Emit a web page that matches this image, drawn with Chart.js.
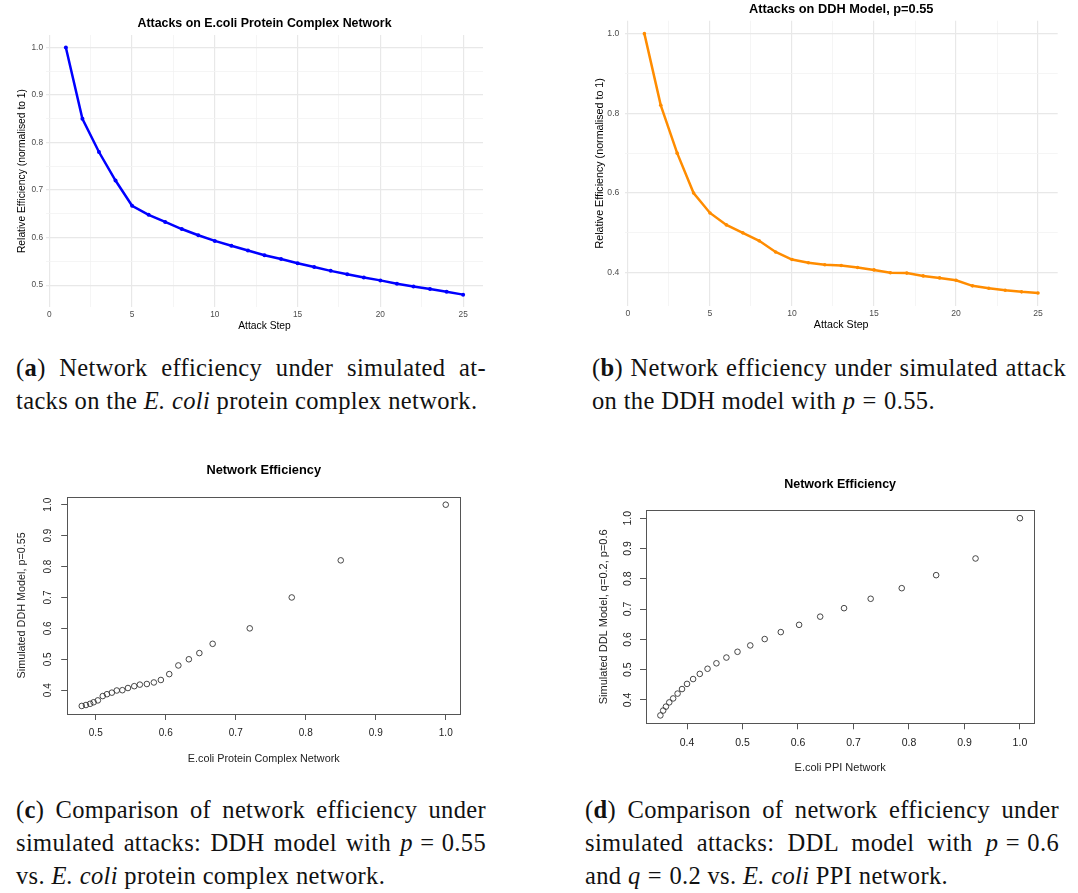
<!DOCTYPE html>
<html>
<head>
<meta charset="utf-8">
<script src="https://cdn.jsdelivr.net/npm/chart.js@4.4.1/dist/chart.umd.min.js"></script>
<style>
  html, body { margin: 0; padding: 0; background: #fff; }
  body { width: 1078px; height: 893px; position: relative; overflow: hidden; }
  canvas { position: absolute; }
  .cap { position: absolute; font-family: "Liberation Serif", serif; font-size: 24.5px; line-height: 24.5px; color: #111; white-space: nowrap; letter-spacing: 0.35px; }
  .cap .eq { margin: 0 0.3em; }
</style>
</head>
<body>
<canvas id="chartA" width="500" height="345" style="left:0;top:0"></canvas>
<canvas id="chartB" width="533" height="345" style="left:545px;top:0"></canvas>
<canvas id="chartC" width="500" height="320" style="left:0;top:455px"></canvas>
<canvas id="chartD" width="533" height="310" style="left:545px;top:470px"></canvas>
<script>
// attack steps shared by the two attack curves
const attackSteps = [1, 2, 3, 4, 5, 6, 7, 8, 9, 10, 11, 12, 13, 14, 15, 16, 17, 18, 19, 20, 21, 22, 23, 24, 25];
// (a) E.coli protein complex network, relative efficiency
const ecoliComplexEff = [1.0, 0.85, 0.78, 0.72, 0.667, 0.648, 0.633, 0.618, 0.605, 0.593, 0.583, 0.573, 0.563, 0.555, 0.546, 0.538, 0.530, 0.523, 0.516, 0.510, 0.503, 0.497, 0.492, 0.486, 0.480];
// (b) DDH model p=0.55
const ddhEff = [1.0, 0.82, 0.70, 0.60, 0.55, 0.52, 0.50, 0.48, 0.452, 0.433, 0.425, 0.42, 0.418, 0.413, 0.407, 0.40, 0.399, 0.392, 0.387, 0.381, 0.367, 0.361, 0.356, 0.352, 0.349];
// (d) E.coli PPI network vs DDL model q=0.2, p=0.6
const ecoliPpiEff = [1.0, 0.92, 0.849, 0.787, 0.731, 0.683, 0.640, 0.602, 0.569, 0.540, 0.514, 0.491, 0.471, 0.453, 0.437, 0.423, 0.411, 0.400, 0.391, 0.383, 0.375, 0.368, 0.362, 0.357, 0.352];
const ddlEff = [1.0, 0.867, 0.812, 0.769, 0.734, 0.703, 0.675, 0.648, 0.624, 0.601, 0.580, 0.559, 0.540, 0.521, 0.503, 0.486, 0.469, 0.453, 0.436, 0.421, 0.405, 0.392, 0.378, 0.365, 0.349];

const SANS = '"Liberation Sans", Arial, sans-serif';

// axis range padded like ggplot (5%) and base R (4%)
const padRange = (vals, frac) => {
  const lo = Math.min(...vals), hi = Math.max(...vals), d = (hi - lo) * frac;
  return [lo - d, hi + d];
};
const isMult = (v, step) => Math.abs(v / step - Math.round(v / step)) < 1e-6;

function ggPanel(id, o) {
  const [xmin, xmax] = padRange(attackSteps, 0.05);
  const [ymin, ymax] = padRange(o.values, 0.05);
  const gridCol = major => major ? '#e8e8e8' : '#f3f3f3';
  new Chart(document.getElementById(id), {
    type: 'line',
    data: {
      datasets: [{
        data: attackSteps.map((s, i) => ({ x: s, y: o.values[i] })),
        borderColor: o.color,
        backgroundColor: o.color,
        borderWidth: 2.5,
        pointRadius: o.pointRadius,
        pointBorderWidth: 0,
        pointHoverRadius: 0,
        tension: 0
      }]
    },
    options: {
      responsive: false,
      animation: false,
      devicePixelRatio: 1,
      layout: { padding: { left: 0, top: 0, bottom: 0, right: o.padRight } },
      plugins: {
        legend: { display: false },
        tooltip: { enabled: false },
        title: {
          display: true, text: o.title, fullSize: false, color: '#000',
          font: { family: SANS, size: o.titleSize, weight: 'bold', lineHeight: 1.2 },
          padding: { top: o.titlePad[0], bottom: o.titlePad[1] }
        }
      },
      scales: {
        x: {
          type: 'linear', min: xmin, max: xmax,
          afterFit: s => { s.height = o.xHeight; },
          border: { display: false },
          grid: {
            drawTicks: false,
            color: c => gridCol(isMult(c.tick.value, 5)),
            lineWidth: c => isMult(c.tick.value, 5) ? 1.2 : 0.8
          },
          ticks: {
            stepSize: 2.5, includeBounds: false, autoSkip: false, maxRotation: 0,
            padding: o.xTickPad, color: '#4d4d4d',
            font: { family: SANS, size: o.tickSize },
            callback: v => isMult(v, 5) ? String(v) : ''
          },
          title: {
            display: true, text: 'Attack Step', color: '#000',
            font: { family: SANS, size: o.axisSize, lineHeight: 1.2 },
            padding: { top: 0, bottom: o.xTitlePad }
          }
        },
        y: {
          min: ymin, max: ymax,
          afterFit: s => { s.width = o.yWidth; },
          border: { display: false },
          grid: {
            drawTicks: false,
            color: c => gridCol(isMult(c.tick.value, o.yMajor)),
            lineWidth: c => isMult(c.tick.value, o.yMajor) ? 1.2 : 0.8
          },
          ticks: {
            stepSize: o.yMajor / 2, includeBounds: false, autoSkip: false,
            padding: o.yTickPad, color: '#4d4d4d',
            font: { family: SANS, size: o.tickSize },
            callback: v => isMult(v, o.yMajor) ? v.toFixed(1) : ''
          },
          title: {
            display: true, text: 'Relative Efficiency (normalised to 1)', color: '#000',
            font: { family: SANS, size: o.axisSize, lineHeight: 1.2 },
            padding: { top: o.yTitlePad, bottom: 0 }
          }
        }
      }
    }
  });
}

// base R look: box round the plot region and y tick labels turned 90 degrees
const rBox = {
  id: 'rBox',
  afterDraw(chart) {
    const { ctx, chartArea: a } = chart;
    ctx.save();
    ctx.strokeStyle = '#555';
    ctx.lineWidth = 1;
    ctx.strokeRect(Math.round(a.left) + 0.5, Math.round(a.top) + 0.5, Math.round(a.right - a.left), Math.round(a.bottom - a.top));
    ctx.restore();
  }
};
const rYLabels = {
  id: 'rYLabels',
  afterDraw(chart, args, opts) {
    const s = chart.scales.y, ctx = chart.ctx;
    ctx.save();
    ctx.font = opts.size + 'px ' + SANS;
    ctx.fillStyle = '#222';
    ctx.textAlign = 'center';
    ctx.textBaseline = 'middle';
    s.ticks.forEach(t => {
      ctx.save();
      ctx.translate(opts.x, s.getPixelForValue(t.value));
      ctx.rotate(-Math.PI / 2);
      ctx.fillText(t.value.toFixed(1), 0, 0);
      ctx.restore();
    });
    ctx.restore();
  }
};

function rPanel(id, o) {
  const [xmin, xmax] = padRange(o.xs, 0.04);
  const [ymin, ymax] = padRange(o.ys, 0.04);
  const tickGrid = { drawOnChartArea: false, drawTicks: true, tickLength: 6, color: '#555', lineWidth: 1 };
  new Chart(document.getElementById(id), {
    type: 'scatter',
    data: {
      datasets: [{
        data: o.xs.map((x, i) => ({ x, y: o.ys[i] })),
        pointRadius: 2.8,
        pointHoverRadius: 2.8,
        borderColor: '#333',
        borderWidth: 0.9,
        backgroundColor: 'rgba(0,0,0,0)'
      }]
    },
    plugins: [rBox, rYLabels],
    options: {
      responsive: false,
      animation: false,
      devicePixelRatio: 1,
      layout: { padding: { left: 0, top: 0, bottom: 0, right: o.padRight } },
      plugins: {
        legend: { display: false },
        tooltip: { enabled: false },
        title: {
          display: true, text: 'Network Efficiency', fullSize: false, color: '#000',
          font: { family: SANS, size: o.titleSize, weight: 'bold', lineHeight: 1.2 },
          padding: { top: o.titlePad[0], bottom: o.titlePad[1] }
        },
        rYLabels: { x: o.yLabelX, size: o.tickSize }
      },
      scales: {
        x: {
          type: 'linear', min: xmin, max: xmax,
          afterFit: s => { s.height = o.xHeight; },
          border: { display: false },
          grid: tickGrid,
          ticks: {
            stepSize: 0.1, includeBounds: false, autoSkip: false, maxRotation: 0,
            padding: o.xTickPad, color: '#222',
            font: { family: SANS, size: o.tickSize },
            callback: v => v.toFixed(1)
          },
          title: {
            display: true, text: o.xTitle, color: '#222',
            font: { family: SANS, size: o.axisSize, lineHeight: 1.2 },
            padding: { top: 0, bottom: o.xTitlePad }
          }
        },
        y: {
          min: ymin, max: ymax,
          afterFit: s => { s.width = o.yWidth; },
          border: { display: false },
          grid: tickGrid,
          ticks: { stepSize: 0.1, includeBounds: false, autoSkip: false, display: false },
          title: {
            display: true, text: o.yTitle, color: '#222',
            font: { family: SANS, size: o.axisSize, lineHeight: 1.2 },
            padding: { top: o.yTitlePad, bottom: 0 }
          }
        }
      }
    }
  });
}

ggPanel('chartA', {
  values: ecoliComplexEff, color: '#0000ff', pointRadius: 2,
  title: 'Attacks on E.coli Protein Complex Network',
  titleSize: 12.4, titlePad: [16.6, 3.6], padRight: 17,
  xHeight: 38, yWidth: 46, yMajor: 0.1,
  tickSize: 8.3, axisSize: 10.3, xTickPad: 3, yTickPad: 3, xTitlePad: 12.8, yTitlePad: 16.2
});

ggPanel('chartB', {
  values: ddhEff, color: '#ff8c00', pointRadius: 1.8,
  title: 'Attacks on DDH Model, p=0.55',
  titleSize: 12.8, titlePad: [1.3, 4], padRight: 20.3,
  xHeight: 39, yWidth: 79.7, yMajor: 0.2,
  tickSize: 8.6, axisSize: 10.7, xTickPad: 2.8, yTickPad: 5.4, xTitlePad: 13.6, yTitlePad: 48.6
});

rPanel('chartC', {
  xs: ecoliComplexEff, ys: ddhEff,
  xTitle: 'E.coli Protein Complex Network', yTitle: 'Simulated DDH Model, p=0.55',
  titleSize: 12.8, titlePad: [8, 18.3], padRight: 39.7,
  xHeight: 61, yWidth: 67.2, tickSize: 10, axisSize: 10.8,
  xTickPad: 7, xTitlePad: 9.5, yTitlePad: 15.9, yLabelX: 48.3
});

rPanel('chartD', {
  xs: ecoliPpiEff, ys: ddlEff,
  xTitle: 'E.coli PPI Network', yTitle: 'Simulated DDL Model, q=0.2, p=0.6',
  titleSize: 12.5, titlePad: [7.5, 17.8], padRight: 43.7,
  xHeight: 56.7, yWidth: 101, tickSize: 10.5, axisSize: 11,
  xTickPad: 7.1, xTitlePad: 5.1, yTitlePad: 52.7, yLabelX: 82.7
});

// sub-figure captions, one entry per printed line (w = justified width)
const captionLines = [
  { x: 16, base: 376, w: 470, html: '(<b>a</b>) Network efficiency under simulated at-' },
  { x: 16, base: 409, html: 'tacks on the <i>E. coli</i> protein complex network.' },
  { x: 592, base: 376, w: 474, html: '(<b>b</b>) Network efficiency under simulated attack' },
  { x: 592, base: 409, html: 'on the DDH model with <i>p</i><span class="eq">=</span>0.55.' },
  { x: 16, base: 818, w: 470, html: '(<b>c</b>) Comparison of network efficiency under' },
  { x: 16, base: 851, w: 470, html: 'simulated attacks: DDH model with <i>p</i><span class="eq">=</span>0.55' },
  { x: 16, base: 884, html: 'vs. <i>E. coli</i> protein complex network.' },
  { x: 585, base: 818, w: 474, html: '(<b>d</b>) Comparison of network efficiency under' },
  { x: 585, base: 851, w: 474, html: 'simulated attacks: DDL model with <i>p</i><span class="eq">=</span>0.6' },
  { x: 585, base: 884, html: 'and <i>q</i><span class="eq">=</span>0.2 vs. <i>E. coli</i> PPI network.' }
];
captionLines.forEach(c => {
  const d = document.createElement('div');
  d.className = 'cap';
  d.innerHTML = c.html;
  d.style.left = c.x + 'px';
  d.style.top = (c.base - 20.5) + 'px';
  document.body.appendChild(d);
  if (c.w) {
    const nat = d.getBoundingClientRect().width;
    const spaces = (d.textContent.match(/ /g) || []).length;
    d.style.wordSpacing = ((c.w - nat) / spaces) + 'px';
  }
});
</script>
</body>
</html>
